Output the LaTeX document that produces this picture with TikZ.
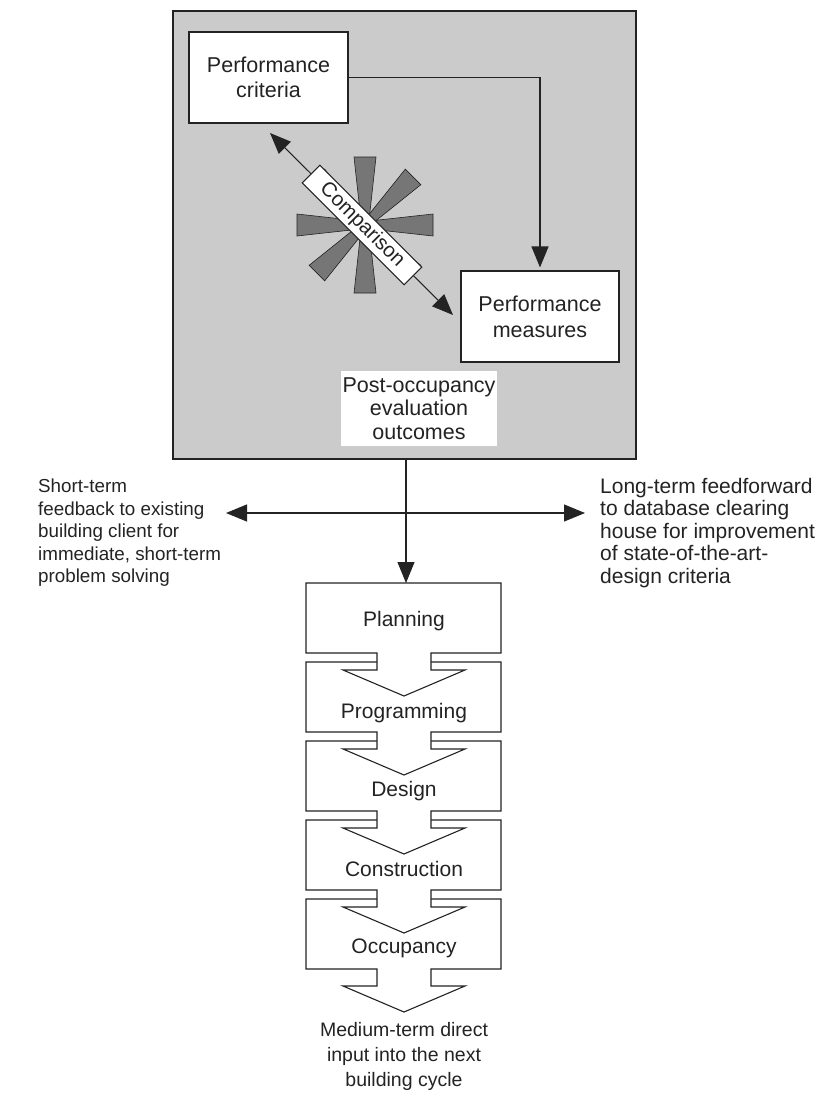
\documentclass[tikz,border=0pt]{standalone}
\usepackage{fontspec}
\setmainfont{Liberation Sans}
\usetikzlibrary{arrows.meta,calc}
\definecolor{panel}{RGB}{203,203,203}
\definecolor{raygrey}{RGB}{118,118,118}
\definecolor{ink}{RGB}{35,35,35}
\begin{document}
\begin{tikzpicture}[x=1pt,y=-1pt,
  every node/.style={font=\fontsize{21}{25}\selectfont, text=ink},
  box/.style={draw=ink, fill=white, line width=1.1pt, align=center, inner sep=0pt},
  lab/.style={font=\fontsize{20}{23}\selectfont, inner sep=0pt},
  conn/.style={draw=ink, line width=1.1pt},
  tip/.style={-{Triangle[length=21pt,width=17pt]}},
  dtip/.style={{Triangle[length=21pt,width=17pt]}-{Triangle[length=21pt,width=17pt]}},
  stageshape/.style={draw=ink, fill=white, line width=1.1pt, line join=miter},
  rayshape/.style={fill=raygrey, draw=ink, line width=0.6pt}
]
\useasboundingbox (0,0) rectangle (824,1095);

% outer grey panel
\node[draw=ink, fill=panel, line width=1.6pt, minimum width=463pt, minimum height=448pt, inner sep=0pt] (frame) at (404.5,235) {};

% boxes
\node[box, minimum width=159pt, minimum height=91pt, font=\fontsize{21.5}{25}\selectfont] (crit) at (268.5,77.5) {Performance\\criteria};
\node[box, minimum width=158pt, minimum height=91pt, font=\fontsize{21.5}{26}\selectfont] (meas) at (540,316.5) {Performance\\measures};
\draw[conn, tip, shorten >=3pt] (crit.east) -| (meas.north);

% starburst
\foreach \a in {0,45,...,315} {
  \begin{scope}[shift={(365,225)}, rotate=\a]
    \path[rayshape] (0,-3.5) -- (68,-11) -- (68,11) -- (0,3.5) -- cycle;
  \end{scope}
}

% comparison double arrow
\coordinate (cmpA) at (270,133);
\coordinate (cmpB) at (453,315);
\draw[conn, line width=1pt, dtip] (cmpA) -- (cmpB);
\node[box, rotate=-45, minimum width=144pt, minimum height=25pt, font=\fontsize{20.5}{24}\selectfont] (cmp) at (362,225) {Comparison};

% post-occupancy outcomes
\node[fill=white, minimum width=156pt, minimum height=75pt, align=center, inner sep=0pt, font=\fontsize{21.5}{23.5}\selectfont] (poe) at (419,408.5) {Post-occupancy\\evaluation\\outcomes};

% vertical arrow to planning
\coordinate (ptop) at (406,583);
\draw[conn, tip] (frame.south -| ptop) -- (ptop);

% horizontal double arrow
\coordinate (hl) at (226,513);
\coordinate (hr) at (585,513);
\draw[conn, dtip] (hl) -- (hr);

\node[lab, anchor=west, align=left, font=\fontsize{18.8}{22.5}\selectfont] (short) at (38,533) {Short-term\\feedback to existing\\building client for\\immediate, short-term\\problem solving};
\node[lab, anchor=west, align=left, font=\fontsize{21}{22.5}\selectfont] (long) at (600,533) {Long-term feedforward\\to database clearing\\house for improvement\\of state-of-the-art-\\design criteria};

% stages
\foreach \i in {4,3,2,1,0} {
  \pgfmathsetmacro\T{583+79*\i}
  \pgfmathsetmacro\B{\T+70}
  \path[stageshape] (306,\T) -- (501,\T) -- (501,\B) -- (431,\B) -- (431,{\B+17}) -- (465,{\B+17})
    -- (404,{\B+43}) -- (343,{\B+17}) -- (377,{\B+17}) -- (377,\B) -- (306,\B) -- cycle;
}
\node (planning) at (404,621) {Planning};
\node (programming) at (404,713) {Programming};
\node (design) at (404,791) {Design};
\node (construction) at (404,869) {Construction};
\node (occupancy) at (404,948) {Occupancy};

\node[lab, align=center, font=\fontsize{19.5}{25}\selectfont] (medium) at (404,1056) {Medium-term direct\\input into the next\\building cycle};
\end{tikzpicture}
\end{document}
